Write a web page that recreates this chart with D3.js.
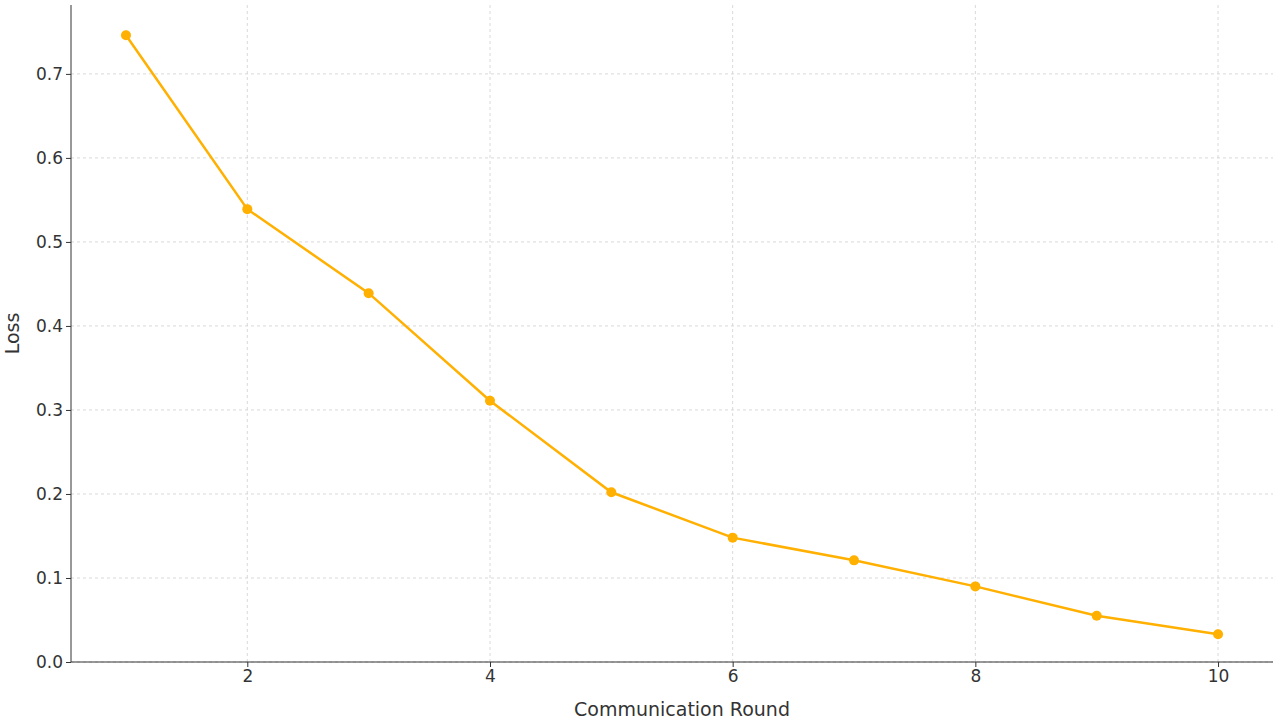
<!DOCTYPE html>
<html><head><meta charset="utf-8">
<script src="https://cdn.jsdelivr.net/npm/d3@7"></script>
<style>body{margin:0;background:#fff}text{font-family:"DejaVu Sans",sans-serif}</style>
</head><body><svg id="c" width="1280" height="721"></svg>
<script>
const rounds=[1,2,3,4,5,6,7,8,9,10];
const loss=[0.746,0.539,0.439,0.311,0.202,0.148,0.121,0.090,0.055,0.033];
const xTicks=[2,4,6,8,10];
const yTicks=[0,0.1,0.2,0.3,0.4,0.5,0.6,0.7];
const svg=d3.select("#c");
const L=71,R=1273,T=5,B=662;
const x=d3.scaleLinear().domain([0.547,10.453]).range([L,R]);
const y=d3.scaleLinear().domain([0,0.782]).range([B,T]);
const g=svg.append("g");
g.selectAll(".gx").data(xTicks).join("line").attr("x1",d=>x(d)).attr("x2",d=>x(d)).attr("y1",T).attr("y2",B)
 .attr("stroke","#cfcfcf").attr("stroke-dasharray","3,3").attr("stroke-width",0.8);
g.selectAll(".gy").data(yTicks).join("line").attr("y1",d=>y(d)).attr("y2",d=>y(d)).attr("x1",L).attr("x2",R)
 .attr("stroke","#cfcfcf").attr("stroke-dasharray","3,3").attr("stroke-width",0.8);
const xa=svg.append("g").attr("transform",`translate(0,${B})`).call(d3.axisBottom(x).tickValues(xTicks).tickSize(5).tickSizeOuter(0));
const ya=svg.append("g").attr("transform",`translate(${L},0)`).call(d3.axisLeft(y).tickValues(yTicks).tickFormat(d3.format(".1f")).tickSize(5).tickSizeOuter(0));
[xa,ya].forEach(a=>{a.selectAll("text").attr("font-size",17).attr("fill","#333").style("font-family","DejaVu Sans");a.selectAll("line,path").attr("stroke","#333")});
ya.select(".domain").attr("d",`M0,${T}V${B}`);
xa.select(".domain").attr("d",`M${L},0H${R}`);
svg.append("text").attr("x",(L+R)/2+10).attr("y",716).attr("text-anchor","middle").attr("font-size",19).attr("fill","#333").text("Communication Round");
svg.append("text").attr("transform",`translate(19,${(T+B)/2}) rotate(-90)`).attr("text-anchor","middle").attr("font-size",19).attr("fill","#333").text("Loss");
svg.append("path").datum(rounds.map((r,i)=>[r,loss[i]])).attr("fill","none").attr("stroke","#FFB000").attr("stroke-width",2.5)
 .attr("d",d3.line().x(d=>x(d[0])).y(d=>y(d[1])));
svg.selectAll("circle").data(rounds).join("circle").attr("cx",d=>x(d)).attr("cy",(d,i)=>y(loss[i])).attr("r",5).attr("fill","#FFB000");
</script></body></html>
